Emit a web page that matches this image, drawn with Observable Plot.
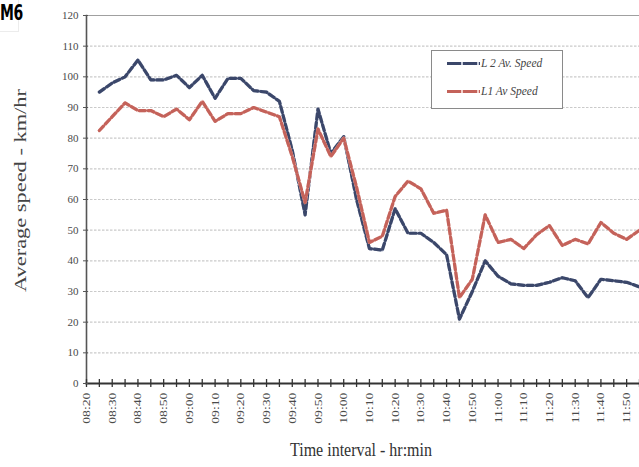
<!DOCTYPE html>
<html>
<head>
<meta charset="utf-8">
<script src="https://cdn.jsdelivr.net/npm/d3@7"></script>
<script src="https://cdn.jsdelivr.net/npm/@observablehq/plot@0.6"></script>
<style>
  html, body { margin: 0; padding: 0; background: #fff; }
  #wrap { position: relative; width: 639px; height: 467px; overflow: hidden; }
  #tag {
    position: absolute; left: 0; top: 0; width: 18px; height: 31px;
    border-right: 1px solid #ececec; border-bottom: 1px solid #ececec;
  }
  #tag span {
    position: absolute; left: 0; top: 0; display: block;
    font-family: "DejaVu Sans", sans-serif; font-weight: bold; font-size: 20px; line-height: 22px;
    color: #000; transform: scale(0.7, 1.1); transform-origin: 0 0; letter-spacing: -0.5px;
  }
  #legend { position: absolute; left: 0; top: 0; pointer-events: none; }
</style>
</head>
<body>
<div id="wrap"><div id="tag"><span>M6</span></div></div>
<script>
// Five-minute intervals on the M6 and average speeds per lane (km/hr)
const times = [
  "08:25","08:30","08:35","08:40","08:45","08:50","08:55","09:00","09:05","09:10",
  "09:15","09:20","09:25","09:30","09:35","09:40","09:45","09:50","09:55","10:00",
  "10:05","10:10","10:15","10:20","10:25","10:30","10:35","10:40","10:45","10:50",
  "10:55","11:00","11:05","11:10","11:15","11:20","11:25","11:30","11:35","11:40",
  "11:45","11:50","11:55"
];
const lane2Speed = [
  95, 98, 100, 105.5, 99, 99, 100.5, 96.5, 100.5, 93,
  99.5, 99.5, 95.5, 95, 92, 76, 55, 89.5, 75, 80.5,
  60, 44, 43.5, 57, 49, 49, 46, 42, 21, 30,
  40, 35, 32.5, 32, 32, 33, 34.5, 33.5, 28, 34,
  33.5, 33, 31.5
];
const lane1Speed = [
  82.5, 87, 91.5, 89, 89, 87, 89.5, 86, 92, 85.5,
  88, 88, 90, 88.5, 87, 74, 59, 83, 74, 80,
  64, 46, 48, 61, 66, 63.5, 55.5, 56.5, 28, 34,
  55, 46, 47, 44, 48.5, 51.5, 45, 47, 45.5, 52.5,
  49, 47, 50
];
const seriesNames = ["L 2 Av. Speed", "L1 Av Speed"];
const xTickLabels = [
  "08:20","08:30","08:40","08:50","09:00","09:10","09:20","09:30","09:40","09:50",
  "10:00","10:10","10:20","10:30","10:40","10:50","11:00","11:10","11:20","11:30",
  "11:40","11:50"
];
const yTicks = [0, 10, 20, 30, 40, 50, 60, 70, 80, 90, 100, 110, 120];
const xDomainLabels = ["08:20", "11:55"];
const yTitle = "Average speed - km/hr";
const xTitle = "Time interval - hr:min";

const parse = d3.utcParse("%H:%M");
const lane2 = times.map((t, i) => ({time: parse(t), speed: lane2Speed[i]}));
const lane1 = times.map((t, i) => ({time: parse(t), speed: lane1Speed[i]}));
const xStart = parse(xDomainLabels[0]);
const xEnd = parse(xDomainLabels[1]);
const minorTicks = d3.utcMinute.every(5).range(xStart, new Date(+xEnd + 1));

const serif = "'Liberation Serif', 'DejaVu Serif', 'Times New Roman', serif";
const blue = "#3b476a", blueSoft = "#c6cbda";
const red = "#c4625a", redSoft = "#f2cec8";
const dash = "6,3";

const chart = Plot.plot({
  width: 639,
  height: 467,
  marginLeft: 86,
  marginRight: 0,
  marginTop: 15,
  marginBottom: 84,
  style: {fontFamily: serif, background: "white", overflow: "visible"},
  x: {type: "utc", domain: [xStart, xEnd], label: null},
  y: {domain: [0, 120], label: null},
  marks: [
    Plot.gridY(yTicks.filter(v => v > 0 && v < 120), {
      stroke: "#cacaca", strokeOpacity: 1, strokeWidth: 1.2, strokeDasharray: "2.5,1.5"
    }),
    Plot.frame({anchor: "top", stroke: "#a0a0a0", strokeWidth: 1.2}),
    Plot.frame({anchor: "left", stroke: "#555", strokeWidth: 1.6}),

    // lane 2 (dashed navy) and lane 1 (dashed red)
    Plot.lineY(lane2, {x: "time", y: "speed", stroke: blueSoft, strokeWidth: 3.2}),
    Plot.lineY(lane2, {x: "time", y: "speed", stroke: blue, strokeWidth: 3.2, strokeDasharray: dash}),
    Plot.lineY(lane1, {x: "time", y: "speed", stroke: redSoft, strokeWidth: 3.2}),
    Plot.lineY(lane1, {x: "time", y: "speed", stroke: red, strokeWidth: 3.2, strokeDasharray: dash}),

    Plot.frame({anchor: "bottom", stroke: "#333", strokeWidth: 2}),
    Plot.axisX({ticks: minorTicks, tickSize: 8, dy: -4, fill: "none", stroke: "#333", strokeWidth: 1.3}),
    Plot.axisX({
      ticks: xTickLabels.map(parse), tickFormat: "%H:%M", tickSize: 0, tickPadding: 9,
      tickRotate: -90, fontSize: 11, fill: "#4a4a4a", label: null, className: "xticklabels"
    }),
    Plot.axisY({ticks: yTicks, tickSize: 5, dx: 2, stroke: "#555", fill: "none"}),
    Plot.axisY({ticks: yTicks, tickSize: 0, tickPadding: 8, fontSize: 11, fill: "#4a4a4a", label: null}),

    Plot.text([yTitle], {
      text: d => d, frameAnchor: "left", textAnchor: "middle", rotate: -90, dx: -66, dy: -9,
      fontSize: 16, fill: "#444", fontFamily: serif
    }),
    Plot.text([xTitle], {
      text: d => d, frameAnchor: "bottom", textAnchor: "middle", dy: 72, dx: -2,
      fontSize: 16, fill: "#333", fontFamily: serif
    })
  ]
});

// the source typesetting is tall and narrow: stretch titles and rotated labels along the vertical
d3.select(chart).selectAll("text").each(function() {
  const t = this.textContent;
  const el = d3.select(this);
  const tr = el.attr("transform") || "";
  if (t === yTitle) el.attr("transform", tr + " scale(1.4,1)");
  else if (t === xTitle) el.attr("transform", tr + " scale(1,1.2)");
});
d3.select(chart).selectAll(".xticklabels text").each(function() {
  const el = d3.select(this);
  el.attr("transform", (el.attr("transform") || "") + " scale(1.25,1)");
});

const wrap = document.getElementById("wrap");
wrap.insertBefore(chart, wrap.firstChild);

// legend box with dashed swatches
const legend = d3.select(wrap).append("svg")
  .attr("id", "legend").attr("width", 639).attr("height", 467);
const box = {x: 431.5, y: 50.5, w: 131, h: 58};
legend.append("rect")
  .attr("x", box.x).attr("y", box.y).attr("width", box.w).attr("height", box.h)
  .attr("fill", "white").attr("stroke", "#8a8a8a").attr("stroke-width", 1);
const entries = [
  {name: seriesNames[0], stroke: blue, soft: blueSoft, cy: 63.5},
  {name: seriesNames[1], stroke: red, soft: redSoft, cy: 91.5}
];
for (const e of entries) {
  legend.append("line").attr("x1", 447).attr("x2", 480).attr("y1", e.cy).attr("y2", e.cy)
    .attr("stroke", e.soft).attr("stroke-width", 3);
  legend.append("line").attr("x1", 447).attr("x2", 480).attr("y1", e.cy).attr("y2", e.cy)
    .attr("stroke", e.stroke).attr("stroke-width", 3).attr("stroke-dasharray", "14,2");
  legend.append("text").attr("x", 481).attr("y", e.cy + 3.5)
    .attr("font-family", serif).attr("font-style", "italic").attr("font-size", 11.5)
    .attr("fill", "#444").text(e.name);
}
</script>
</body>
</html>
